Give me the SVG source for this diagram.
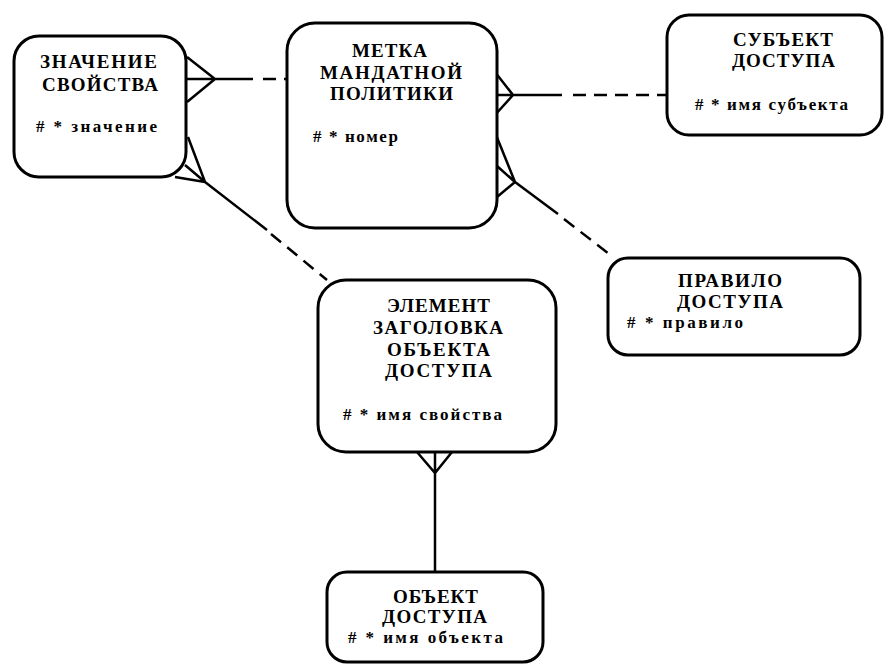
<svg xmlns="http://www.w3.org/2000/svg" width="885" height="664" viewBox="0 0 885 664">
<style>
.box{fill:#fff;stroke:#000;stroke-width:3}
.t{font-family:"Liberation Serif","DejaVu Serif",serif;font-weight:bold;font-size:19px;fill:#000}
.a{font-family:"Liberation Serif","DejaVu Serif",serif;font-weight:bold;font-size:17px;fill:#000}
.ln{fill:none;stroke:#000;stroke-width:2.5}
.ds{fill:none;stroke:#000;stroke-width:2.5;stroke-dasharray:13 8}
</style>
<rect width="885" height="664" fill="#fff"/>
<g id="connectors">
<path class="ln" d="M187,57 L215,79 L187,102 M187,79 L253,79"/>
<path class="ds" d="M263,79 L287,79"/>
<path class="ln" d="M495,72 L513,95 L495,115 M497,95 L562,95"/>
<path class="ds" d="M573,95 L667,95"/>
<path class="ln" d="M494,130 L515,182 M497,166 L515,182 M497,197 L515,182 M515,182 L558,214"/>
<path class="ds" d="M564,219 L613,257"/>
<path class="ln" d="M188,137 L205,182 M185,165 L205,182 M175,177 L205,182 M205,182 L267,230"/>
<path class="ds" d="M271,234 L327,280"/>
<path class="ln" d="M417,452 L435,473 L452,452 M435,452 L435,572"/>
</g>
<g id="n-znachenie">
<rect class="box" x="14" y="36" width="172" height="141" rx="25"/>
<text class="t" x="40" y="68" textLength="117" lengthAdjust="spacing">ЗНАЧЕНИЕ</text>
<text class="t" x="42" y="91" textLength="116" lengthAdjust="spacing">СВОЙСТВА</text>
<text class="a" x="36" y="132" textLength="121" lengthAdjust="spacing"># *  значение</text>
</g>
<g id="n-metka">
<rect class="box" x="287" y="23" width="210" height="205" rx="28"/>
<text class="t" x="352" y="57" textLength="75" lengthAdjust="spacing">МЕТКА</text>
<text class="t" x="320" y="79" textLength="142" lengthAdjust="spacing">МАНДАТНОЙ</text>
<text class="t" x="330" y="100" textLength="123" lengthAdjust="spacing">ПОЛИТИКИ</text>
<text class="a" x="313" y="142" textLength="85" lengthAdjust="spacing"># * номер</text>
</g>
<g id="n-subject">
<rect class="box" x="667" y="15" width="215" height="120" rx="22"/>
<text class="t" x="733" y="46" textLength="100" lengthAdjust="spacing">СУБЪЕКТ</text>
<text class="t" x="732" y="67" textLength="103" lengthAdjust="spacing">ДОСТУПА</text>
<text class="a" x="695" y="110" textLength="153" lengthAdjust="spacing"># * имя субъекта</text>
</g>
<g id="n-pravilo">
<rect class="box" x="608" y="258" width="252" height="97" rx="20"/>
<text class="t" x="678" y="287" textLength="104" lengthAdjust="spacing">ПРАВИЛО</text>
<text class="t" x="677" y="308" textLength="106" lengthAdjust="spacing">ДОСТУПА</text>
<text class="a" x="627" y="328" textLength="116" lengthAdjust="spacing">#  * правило</text>
</g>
<g id="n-element">
<rect class="box" x="318" y="280" width="238" height="172" rx="28"/>
<text class="t" x="387" y="312" textLength="103" lengthAdjust="spacing">ЭЛЕМЕНТ</text>
<text class="t" x="373" y="334" textLength="130" lengthAdjust="spacing">ЗАГОЛОВКА</text>
<text class="t" x="387" y="356" textLength="103" lengthAdjust="spacing">ОБЪЕКТА</text>
<text class="t" x="385" y="377" textLength="107" lengthAdjust="spacing">ДОСТУПА</text>
<text class="a" x="343" y="420" textLength="159" lengthAdjust="spacing"># * имя свойства</text>
</g>
<g id="n-object">
<rect class="box" x="327" y="572" width="216" height="90" rx="20"/>
<text class="t" x="393" y="603" textLength="85" lengthAdjust="spacing">ОБЪЕКТ</text>
<text class="t" x="382" y="623" textLength="105" lengthAdjust="spacing">ДОСТУПА</text>
<text class="a" x="348" y="643" textLength="155" lengthAdjust="spacing">#  * имя объекта</text>
</g>
</svg>
